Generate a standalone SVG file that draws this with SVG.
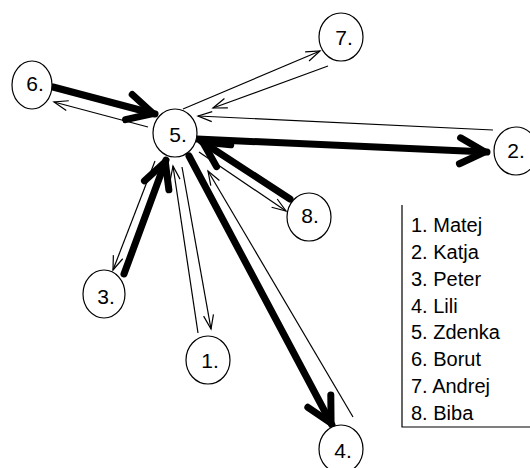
<svg xmlns="http://www.w3.org/2000/svg" width="530" height="468" viewBox="0 0 530 468">
<style>
.node ellipse{fill:#fff;stroke:#000;stroke-width:1.2}
.node text{font-family:"Liberation Sans",Arial,sans-serif;font-size:21px;text-anchor:middle;fill:#000}
.thick{stroke:#000;stroke-width:7;stroke-linecap:round;fill:none;marker-end:url(#hThick)}
.thin{stroke:#000;stroke-width:1.2;fill:none;marker-end:url(#hThin)}
.legend text{font-family:"Liberation Sans",Arial,sans-serif;font-size:20px;fill:#000}
</style>
<defs>
<marker id="hThick" markerUnits="userSpaceOnUse" orient="auto" refX="0" refY="0" markerWidth="1" markerHeight="1" overflow="visible">
<path d="M-27,-13 L-2,0 L-27,13" fill="none" stroke="#000" stroke-width="7" stroke-linecap="round" stroke-linejoin="round"/>
</marker>
<marker id="hThin" markerUnits="userSpaceOnUse" orient="auto" refX="0" refY="0" markerWidth="1" markerHeight="1" overflow="visible">
<path d="M-14,-5 L0,0 L-14,5" fill="none" stroke="#000" stroke-width="1.2"/>
</marker>
</defs>
<rect width="530" height="468" fill="#fff"/>
<g id="connectors">
<line class="thick" x1="53" y1="87" x2="155" y2="114"/>
<line class="thick" x1="197" y1="139" x2="487" y2="152"/>
<line class="thick" x1="290" y1="199" x2="201" y2="141"/>
<line class="thick" x1="189" y1="156" x2="332" y2="425"/>
<line class="thick" x1="124" y1="274" x2="166" y2="160"/>
<line class="thin" x1="148" y1="127" x2="54" y2="102"/>
<line class="thin" x1="183" y1="109" x2="320" y2="51"/>
<line class="thin" x1="328" y1="66" x2="213" y2="108"/>
<line class="thin" x1="493" y1="130" x2="198" y2="116"/>
<line class="thin" x1="199" y1="152" x2="286" y2="211"/>
<line class="thin" x1="353" y1="417" x2="208" y2="171"/>
<line class="thin" x1="182" y1="167" x2="211" y2="329"/>
<line class="thin" x1="198" y1="333" x2="173" y2="166"/>
<line class="thin" x1="155" y1="161" x2="113" y2="270"/>
</g>
<g id="n5" class="node"><ellipse cx="175" cy="133" rx="22" ry="24"/><text x="178" y="142">5.</text></g>
<g id="n6" class="node"><ellipse cx="32" cy="85" rx="20" ry="24"/><text x="35" y="91">6.</text></g>
<g id="n7" class="node"><ellipse cx="341" cy="37" rx="22" ry="24"/><text x="344" y="45">7.</text></g>
<g id="n2" class="node"><ellipse cx="516" cy="151" rx="22" ry="24"/><text x="516" y="158">2.</text></g>
<g id="n8" class="node"><ellipse cx="309" cy="217" rx="22" ry="24"/><text x="310" y="223">8.</text></g>
<g id="n3" class="node"><ellipse cx="104" cy="294" rx="21" ry="24"/><text x="106" y="304">3.</text></g>
<g id="n1" class="node"><ellipse cx="208" cy="360" rx="22" ry="24"/><text x="210" y="368">1.</text></g>
<g id="n4" class="node"><ellipse cx="341" cy="449" rx="22" ry="24"/><text x="343" y="458">4.</text></g>
<g id="legend" class="legend">
<path d="M402,205 V427 H530" fill="none" stroke="#000" stroke-width="1.2"/>
<text x="411" y="232">1. Matej</text>
<text x="411" y="259">2. Katja</text>
<text x="411" y="286">3. Peter</text>
<text x="411" y="313">4. Lili</text>
<text x="411" y="339">5. Zdenka</text>
<text x="411" y="366">6. Borut</text>
<text x="411" y="393">7. Andrej</text>
<text x="411" y="420">8. Biba</text>
</g>
</svg>
